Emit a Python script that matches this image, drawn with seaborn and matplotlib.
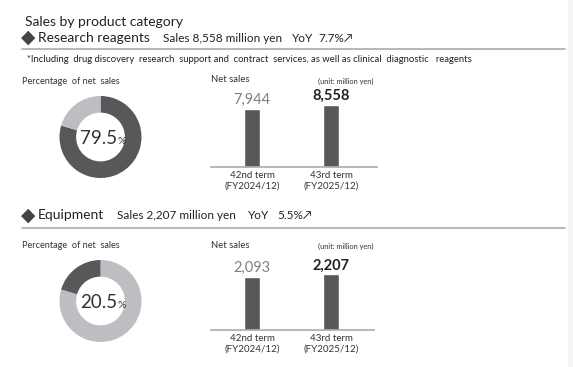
import matplotlib
matplotlib.use("Agg")
import matplotlib.pyplot as plt
import seaborn as sns
import pandas as pd

# ---- data ----
terms = ["42nd term\n(FY2024/12)", "43rd term\n(FY2025/12)"]
reagents_sales = [7944, 8558]
equipment_sales = [2093, 2207]
share_labels = ["Research reagents", "Equipment"]
share_values = [79.5, 20.5]

title = "Sales by product category"
sections = [
    ("Research reagents", "Sales 8,558 million yen", "YoY", "7.7%\u2197"),
    ("Equipment", "Sales 2,207 million yen", "YoY", "5.5%\u2197"),
]
footnote = "*Including  drug discovery  research  support and  contract  services, as well as clinical  diagnostic   reagents"

sns.set_theme(style="white")
plt.rcParams['font.family'] = ['Lato', 'DejaVu Sans']

W, H = 573, 367
fig = plt.figure(figsize=(W / 100, H / 100), dpi=100)
fig.patch.set_facecolor("white")

DARK = "#58585a"
LIGHT = "#bdbec1"
TXT = "#333333"


def px(x, y):
    return x / W, 1 - y / H


def add_ax(left, top, right, bottom):
    return fig.add_axes([left / W, 1 - bottom / H, (right - left) / W, (bottom - top) / H])


# background strip on right edge
fig.patches.append(plt.Rectangle((568 / W, 0), 5 / W, 1, transform=fig.transFigure,
                                 color="#f4f4f4", zorder=0))

fig.text(*px(25, 22.5), title, fontsize=10, color="#222222", va="center", ha="left")

# x positions: diamond, name, sales, yoy, pct
header_x = [(21, 38, 163, 292, 318), (21, 38, 117, 248, 277)]
header_y = [37.5, 215]
line_y = [48.7, 227.7]
for (name, sales, yoy, pct), (xd, xn, xs, xy, xp), hy, ly in zip(sections, header_x, header_y, line_y):
    fig.text(*px(xd, hy), "\u25c6", fontsize=13.5, color="#444444", va="center", ha="left",
             family=["DejaVu Sans"])
    fig.text(*px(xn, hy), name, fontsize=10, color="#222222", va="center", ha="left")
    fig.text(*px(xs, hy + 0.5), sales, fontsize=8.5, color="#222222", va="center", ha="left")
    fig.text(*px(xy, hy + 0.5), yoy, fontsize=8.5, color="#222222", va="center", ha="left")
    fig.text(*px(xp, hy + 0.5), pct, fontsize=8.5, color="#222222", va="center", ha="left",
             family=["Lato", "DejaVu Sans"])
    fig.add_artist(plt.Line2D([22 / W, 565 / W], [1 - ly / H, 1 - ly / H],
                              color="#aaaaaa", lw=1.2, transform=fig.transFigure))

fig.text(*px(27, 59), footnote, fontsize=6.8, color="#222222", va="center", ha="left")

# ---- donuts ----
donut_cfg = [
    (137, [DARK, LIGHT], 82),
    (301, [LIGHT, DARK], 246),
]
for i, (cy, cols, lab_y) in enumerate(donut_cfg):
    fig.text(*px(22, lab_y), "Percentage  of net  sales", fontsize=6.6, color=TXT,
             va="center", ha="left")
    r = 41
    cx = 100.5
    ax = add_ax(cx - r, cy - r, cx + r, cy + r)
    ax.pie(share_values, colors=cols, startangle=90, counterclock=False, radius=1,
           wedgeprops=dict(width=0.405, edgecolor="none"))
    ax.set_xlim(-1, 1)
    ax.set_ylim(-1, 1)
    ax.set_aspect("equal")
    ax.axis("off")
    val = share_values[i]
    ax.text(0.40, -0.17, f"{val}", fontsize=13.5, color=TXT, ha="right", va="baseline")
    ax.text(0.42, -0.17, "%", fontsize=7.5, color=TXT, ha="left", va="baseline")

# ---- bars ----
bar_cfg = [
    (reagents_sales, 95, 167, 211, 377, 80, 58),
    (equipment_sales, 270, 330, 211, 374, 245, 53),
]
for vals, top, base, left, right, lab_y, h_px in bar_cfg:
    fig.text(*px(211, lab_y), "Net sales", fontsize=6.8, color=TXT, va="center", ha="left")
    fig.text(*px(318, lab_y + 1), "(unit: million yen)", fontsize=5.3, color=TXT,
             va="center", ha="left")
    ax = add_ax(left, top, right, base)
    df = pd.DataFrame({"term": terms, "sales": vals})
    sns.barplot(data=df, x="term", y="sales", ax=ax, color=DARK, width=0.2,
                saturation=1)
    ymax = vals[0] * (base - top) / h_px
    ax.set_ylim(0, ymax)
    cpx = 79
    ax.set_xlim(-(252 - left) / cpx, 1 + (right - 331) / cpx)
    ax.set_facecolor("none")
    for s in ["top", "left", "right"]:
        ax.spines[s].set_visible(False)
    ax.spines["bottom"].set_color("#aaaaaa")
    ax.spines["bottom"].set_linewidth(1.2)
    ax.set_yticks([])
    ax.set_xlabel("")
    ax.set_ylabel("")
    ax.tick_params(axis="x", length=0, pad=3, labelsize=7, labelcolor=TXT)
    ax.text(0, vals[0] + ymax * 0.03, f"{vals[0]:,}", fontsize=10.5, color="#808080",
            ha="center", va="bottom")
    ax.text(1, vals[1] + ymax * 0.03, f"{vals[1]:,}", fontsize=10.5, color="#222222",
            ha="center", va="bottom", fontweight="bold")

fig.savefig("out.png", dpi=100, facecolor="white")
